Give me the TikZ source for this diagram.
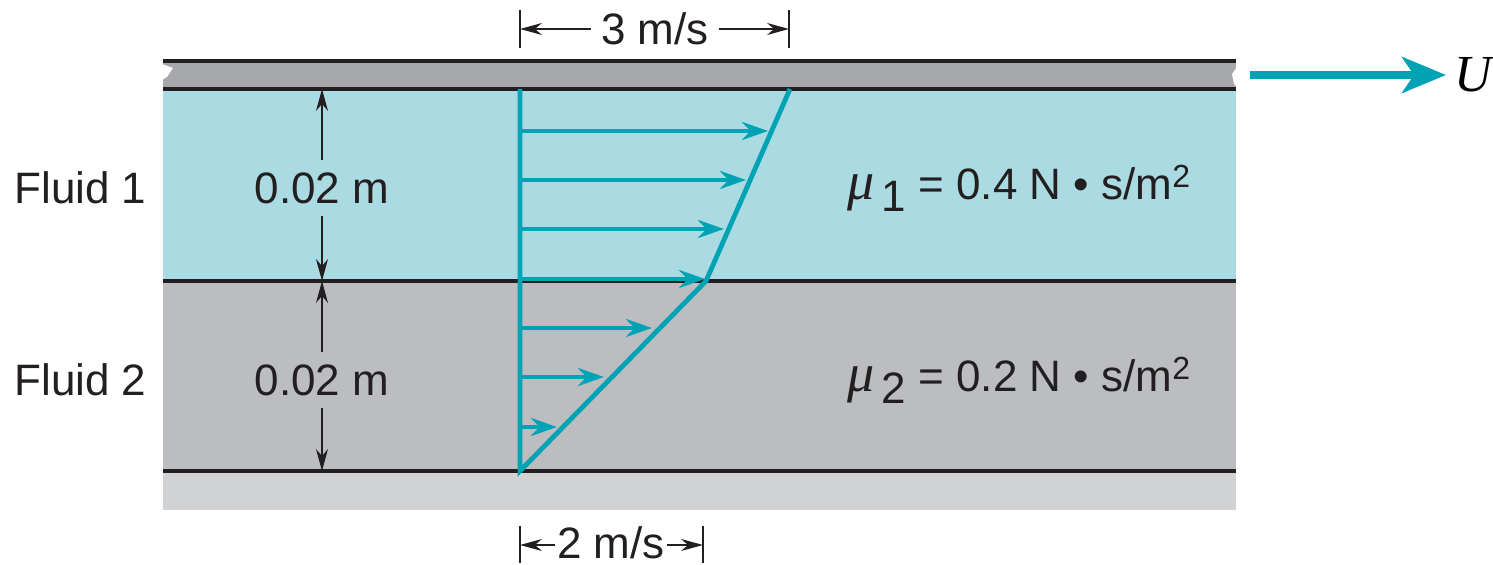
\documentclass[tikz,border=0pt]{standalone}
\usepackage{fontspec}
\setmainfont{Liberation Sans}
\newfontfamily\serifit{Liberation Serif}[ItalicFont=* Italic]
\usetikzlibrary{arrows.meta}
\definecolor{teal1}{HTML}{00A3B4}
\definecolor{fluidA}{HTML}{AADBE2}
\definecolor{fluidB}{HTML}{BCBDC1}
\definecolor{plateT}{HTML}{A7A8AB}
\definecolor{plateB}{HTML}{D1D2D4}
\definecolor{ink}{HTML}{231F20}
\tikzset{
  wall/.style={line width=2pt, ink},
  dimline/.style={line width=0.7pt, ink, -{Stealth[length=11pt,width=6pt]}},
  tick/.style={line width=0.7pt, ink},
  vel/.style={line width=2.4pt, teal1, -{Stealth[length=13pt,width=9pt]}},
  prof/.style={line width=2.4pt, teal1},
  lbl/.style={font=\fontsize{22}{26}\selectfont, text=ink, inner sep=1pt},
  pt/.style={coordinate}
}
\begin{document}
\begin{tikzpicture}[x=0.5pt,y=-0.5pt]
\useasboundingbox (0,0) rectangle (1493,565);
% fills
\fill[plateT] (163,61) rectangle (1236,89);
\fill[fluidA] (163,89) rectangle (1236,281);
\fill[fluidB] (163,281) rectangle (1236,471);
\fill[plateB] (163,471) rectangle (1236,510);
% notches
\fill[white] (162,64) -- (173,68) -- (167,77) -- (162,80) -- cycle;
\fill[white] (1237,67) -- (1232,74) -- (1234,84) -- (1237,87) -- cycle;
% walls
\draw[wall] (163,61) -- (1236,61);
\draw[wall] (163,89) -- (1236,89);
\draw[wall] (163,281) -- (1236,281);
\draw[wall] (163,471) -- (1236,471);
% profile
\coordinate (o) at (520,471);
\coordinate (top) at (520,89);
\coordinate (m) at (706,281);
\coordinate (t) at (790,89);
\draw[prof] (top) -- (o) -- (m) -- (t);
\foreach \y/\x in {131/768,180/746,229/724,279/705,328/652,377/604,427/557}{
  \draw[vel] (520,\y) -- (\x,\y);
}
% U arrow
\node[inner sep=0pt, font=\fontsize{26}{28}\serifit\itshape, anchor=west] (U) at (1454,75) {U};
\coordinate (Us) at (1250,75);
\draw[line width=3.6pt, teal1, -{Stealth[length=22pt,width=18pt,inset=6pt]}] (Us) -- ([xshift=-4]U.west);
% 3 m/s dimension
\node[lbl] (d3) at (655,29) {3 m/s};
\draw[tick] (520,10) -- (520,48);
\draw[tick] (789,10) -- (789,48);
\coordinate (a3l) at (520,29);
\coordinate (a3r) at (789,29);
\draw[dimline] (d3.west) ++(-8,0) -- (a3l);
\draw[dimline] (d3.east) ++(8,0) -- (a3r);
% 2 m/s dimension
\node[lbl, inner sep=0pt] (d2) at (611,543) {2 m/s};
\draw[tick] (520,526) -- (520,563);
\draw[tick] (703,526) -- (703,563);
\coordinate (a2l) at (520,545);
\coordinate (a2r) at (703,545);
\draw[dimline] (d2.west |- a2l) ++(-2,0) -- (a2l);
\draw[dimline] (d2.east |- a2r) ++(2,0) -- (a2r);
% vertical dims
\node[lbl, fill=fluidA, inner ysep=6pt] (h1) at (322,188) {0.02 m};
\node[lbl, fill=fluidB, inner ysep=6pt] (h2) at (322,380) {0.02 m};
\coordinate (v1t) at (322,89);
\coordinate (v1b) at (322,281);
\coordinate (v2t) at (322,281);
\coordinate (v2b) at (322,471);
\draw[dimline] (h1.north) -- (v1t);
\draw[dimline] (h1.south) -- (v1b);
\draw[dimline] (h2.north) -- (v2t);
\draw[dimline] (h2.south) -- (v2b);
% labels
\node[lbl, anchor=west] (f1) at (12,188) {Fluid 1};
\node[lbl, anchor=west] (f2) at (12,380) {Fluid 2};
\node[lbl, anchor=west] (mu1) at (845,188) {{\serifit\itshape\fontsize{27}{28}\selectfont μ}\,\raisebox{-6pt}{1} = 0.4 N • s/m\raisebox{6pt}{\fontsize{16}{18}\selectfont 2}};
\node[lbl, anchor=west] (mu2) at (845,380) {{\serifit\itshape\fontsize{27}{28}\selectfont μ}\,\raisebox{-6pt}{2} = 0.2 N • s/m\raisebox{6pt}{\fontsize{16}{18}\selectfont 2}};
\end{tikzpicture}
\end{document}
